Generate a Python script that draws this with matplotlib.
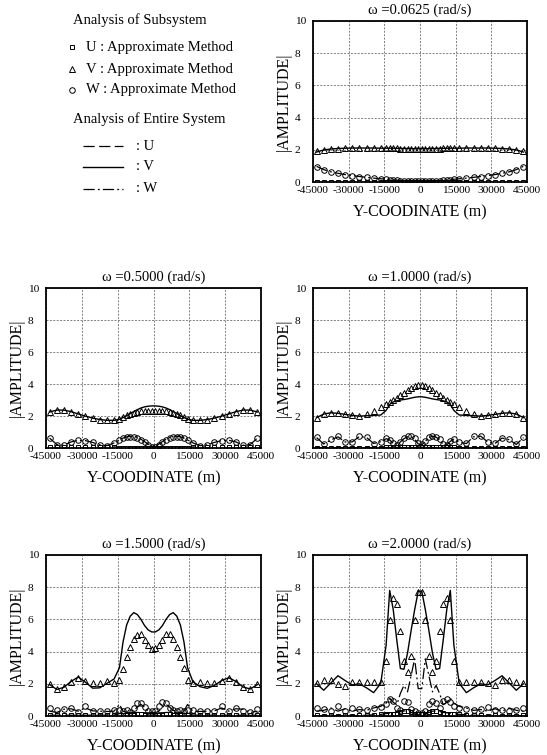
import matplotlib
matplotlib.use("Agg")
import matplotlib.pyplot as plt

plt.rcParams['font.family'] = ['Liberation Serif', 'DejaVu Serif']
plt.rcParams['axes.unicode_minus'] = False

# Y-coordinates of the computed points (m)
y_pos = [-43500, -40500, -37500, -34500, -31500, -28500, -25500, -22500, -19500, -16500,
         -14250, -12750, -11250, -9750, -8250, -6750, -5250, -3750, -2250, -750,
         750, 2250, 3750, 5250, 6750, 8250, 9750, 11250, 12750, 14250,
         16500, 19500, 22500, 25500, 28500, 31500, 34500, 37500, 40500, 43500]

x_ticks = [-45000, -30000, -15000, 0, 15000, 30000, 45000]
x_tick_labels = ['-45000', '-30000', '-15000', '0', '15000', '30000', '45000']
y_ticks = [0, 2, 4, 6, 8, 10]

#--------------------------------------------------------------------------
# omega = 0.0625
a_u_pt = [0.03, 0.03, 0.03, 0.03, 0.03, 0.03, 0.03, 0.03, 0.03, 0.03,
          0.03, 0.03, 0.03, 0.02, 0.02, 0.02, 0.02, 0.02, 0.02, 0.02,
          0.02, 0.02, 0.02, 0.02, 0.02, 0.02, 0.02, 0.03, 0.03, 0.03,
          0.03, 0.03, 0.03, 0.03, 0.03, 0.03, 0.03, 0.03, 0.03, 0.03]
a_v_pt = [1.90, 2.00, 2.05, 2.08, 2.10, 2.10, 2.11, 2.11, 2.11, 2.10,
          2.10, 2.10, 2.09, 2.09, 2.08, 2.08, 2.08, 2.07, 2.07, 2.07,
          2.07, 2.07, 2.07, 2.08, 2.08, 2.08, 2.09, 2.09, 2.10, 2.10,
          2.10, 2.11, 2.11, 2.11, 2.10, 2.10, 2.08, 2.05, 2.00, 1.90]
a_w_pt = [0.95, 0.75, 0.62, 0.53, 0.45, 0.39, 0.33, 0.28, 0.23, 0.19,
          0.16, 0.14, 0.12, 0.10, 0.09, 0.07, 0.06, 0.05, 0.04, 0.04,
          0.04, 0.04, 0.05, 0.06, 0.07, 0.09, 0.10, 0.12, 0.14, 0.16,
          0.19, 0.23, 0.28, 0.33, 0.39, 0.45, 0.53, 0.62, 0.75, 0.95]
a_u_ln = [0.01, 0.01, 0.01, 0.01, 0.01, 0.01, 0.01, 0.01, 0.01, 0.01,
          0.01, 0.01, 0.01, 0.01, 0.01, 0.01, 0.01, 0.01, 0.01, 0.01,
          0.01, 0.01, 0.01, 0.01, 0.01, 0.01, 0.01, 0.01, 0.01, 0.01,
          0.01, 0.01, 0.01, 0.01, 0.01, 0.01, 0.01, 0.01, 0.01, 0.01]
a_v_ln = [1.86, 1.99, 2.05, 2.08, 2.10, 2.11, 2.11, 2.11, 2.11, 2.10,
          2.10, 2.10, 2.10, 2.09, 2.09, 2.08, 2.08, 2.07, 2.07, 2.07,
          2.07, 2.07, 2.07, 2.08, 2.08, 2.09, 2.09, 2.10, 2.10, 2.10,
          2.10, 2.11, 2.11, 2.11, 2.11, 2.10, 2.08, 2.05, 1.99, 1.86]
a_w_ln = [0.97, 0.77, 0.63, 0.54, 0.46, 0.40, 0.34, 0.29, 0.24, 0.20,
          0.17, 0.15, 0.13, 0.11, 0.09, 0.08, 0.06, 0.05, 0.04, 0.03,
          0.03, 0.04, 0.05, 0.06, 0.08, 0.09, 0.11, 0.13, 0.15, 0.17,
          0.20, 0.24, 0.29, 0.34, 0.40, 0.46, 0.54, 0.63, 0.77, 0.97]

#--------------------------------------------------------------------------
# omega = 0.5
b_u_pt = [0.04, 0.04, 0.04, 0.04, 0.04, 0.04, 0.04, 0.04, 0.04, 0.04,
          0.03, 0.03, 0.03, 0.03, 0.03, 0.03, 0.03, 0.03, 0.03, 0.03,
          0.03, 0.03, 0.03, 0.03, 0.03, 0.03, 0.03, 0.03, 0.03, 0.03,
          0.04, 0.04, 0.04, 0.04, 0.04, 0.04, 0.04, 0.04, 0.04, 0.04]
b_v_pt = [2.22, 2.35, 2.35, 2.25, 2.12, 2.00, 1.87, 1.78, 1.73, 1.72,
          1.82, 1.93, 2.04, 2.13, 2.20, 2.26, 2.30, 2.32, 2.33, 2.33,
          2.33, 2.33, 2.32, 2.30, 2.26, 2.20, 2.13, 2.04, 1.93, 1.82,
          1.72, 1.73, 1.78, 1.87, 2.00, 2.12, 2.25, 2.35, 2.35, 2.22]
b_w_pt = [0.60, 0.20, 0.17, 0.37, 0.47, 0.46, 0.35, 0.20, 0.15, 0.30,
          0.47, 0.60, 0.67, 0.70, 0.68, 0.60, 0.48, 0.35, 0.20, 0.08,
          0.08, 0.20, 0.35, 0.48, 0.60, 0.68, 0.70, 0.67, 0.60, 0.47,
          0.30, 0.15, 0.20, 0.35, 0.46, 0.47, 0.37, 0.17, 0.20, 0.60]
b_u_ln = [0.02, 0.02, 0.02, 0.02, 0.02, 0.02, 0.02, 0.02, 0.02, 0.02,
          0.02, 0.02, 0.02, 0.02, 0.02, 0.02, 0.02, 0.02, 0.02, 0.02,
          0.02, 0.02, 0.02, 0.02, 0.02, 0.02, 0.02, 0.02, 0.02, 0.02,
          0.02, 0.02, 0.02, 0.02, 0.02, 0.02, 0.02, 0.02, 0.02, 0.02]
b_v_ln = [2.25, 2.37, 2.37, 2.27, 2.13, 1.99, 1.87, 1.78, 1.73, 1.73,
          1.80, 1.90, 2.02, 2.15, 2.28, 2.40, 2.50, 2.57, 2.61, 2.63,
          2.63, 2.61, 2.57, 2.50, 2.40, 2.28, 2.15, 2.02, 1.90, 1.80,
          1.73, 1.73, 1.78, 1.87, 1.99, 2.13, 2.27, 2.37, 2.37, 2.25]
b_w_ln = [0.62, 0.22, 0.17, 0.38, 0.48, 0.46, 0.35, 0.20, 0.15, 0.32,
          0.50, 0.62, 0.70, 0.74, 0.73, 0.66, 0.55, 0.40, 0.25, 0.10,
          0.10, 0.25, 0.40, 0.55, 0.66, 0.73, 0.74, 0.70, 0.62, 0.50,
          0.32, 0.15, 0.20, 0.35, 0.46, 0.48, 0.38, 0.17, 0.22, 0.62]

#--------------------------------------------------------------------------
# omega = 1.0
c_u_pt = [0.03, 0.03, 0.03, 0.03, 0.03, 0.03, 0.03, 0.03, 0.03, 0.03,
          0.04, 0.04, 0.04, 0.04, 0.05, 0.05, 0.05, 0.05, 0.05, 0.05,
          0.05, 0.05, 0.05, 0.05, 0.05, 0.05, 0.04, 0.04, 0.04, 0.04,
          0.03, 0.03, 0.03, 0.03, 0.03, 0.03, 0.03, 0.03, 0.03, 0.03]
c_v_pt = [1.88, 2.15, 2.20, 2.17, 2.10, 2.04, 1.98, 2.10, 2.33, 2.58,
          2.72, 2.85, 3.00, 3.15, 3.30, 3.45, 3.60, 3.75, 3.87, 3.93,
          3.93, 3.87, 3.75, 3.60, 3.45, 3.30, 3.15, 3.00, 2.85, 2.72,
          2.58, 2.33, 2.10, 1.98, 2.04, 2.10, 2.17, 2.20, 2.15, 1.88]
c_w_pt = [0.68, 0.28, 0.55, 0.72, 0.38, 0.40, 0.75, 0.68, 0.28, 0.40,
          0.60, 0.52, 0.30, 0.18, 0.40, 0.60, 0.73, 0.77, 0.62, 0.30,
          0.22, 0.45, 0.68, 0.77, 0.70, 0.55, 0.25, 0.20, 0.45, 0.58,
          0.35, 0.30, 0.73, 0.77, 0.40, 0.30, 0.65, 0.55, 0.25, 0.68]
c_u_ln = [0.02, 0.02, 0.02, 0.02, 0.02, 0.02, 0.02, 0.02, 0.02, 0.02,
          0.03, 0.03, 0.03, 0.03, 0.03, 0.03, 0.03, 0.03, 0.03, 0.03,
          0.03, 0.03, 0.03, 0.03, 0.03, 0.03, 0.03, 0.03, 0.03, 0.03,
          0.02, 0.02, 0.02, 0.02, 0.02, 0.02, 0.02, 0.02, 0.02, 0.02]
c_v_ln = [1.90, 2.12, 2.20, 2.17, 2.10, 2.04, 1.99, 2.02, 2.04, 2.06,
          2.35, 2.72, 2.88, 2.95, 3.00, 3.03, 3.07, 3.12, 3.17, 3.20,
          3.20, 3.17, 3.12, 3.07, 3.03, 3.00, 2.95, 2.88, 2.72, 2.35,
          2.06, 2.04, 2.02, 1.99, 2.04, 2.10, 2.17, 2.20, 2.12, 1.90]
c_w_ln = [0.65, 0.25, 0.50, 0.70, 0.38, 0.38, 0.72, 0.66, 0.28, 0.40,
          0.58, 0.50, 0.28, 0.15, 0.38, 0.58, 0.70, 0.72, 0.55, 0.25,
          0.20, 0.42, 0.65, 0.74, 0.68, 0.50, 0.22, 0.18, 0.42, 0.55,
          0.35, 0.28, 0.70, 0.74, 0.38, 0.28, 0.62, 0.52, 0.22, 0.65]

#--------------------------------------------------------------------------
# omega = 1.5
d_u_pt = [0.04, 0.04, 0.04, 0.04, 0.04, 0.04, 0.04, 0.04, 0.04, 0.05,
          0.06, 0.07, 0.08, 0.08, 0.09, 0.10, 0.10, 0.09, 0.08, 0.07,
          0.07, 0.08, 0.09, 0.10, 0.10, 0.09, 0.08, 0.08, 0.07, 0.06,
          0.05, 0.04, 0.04, 0.04, 0.04, 0.04, 0.04, 0.04, 0.04, 0.04]
d_v_pt = [1.97, 1.68, 1.80, 2.13, 2.34, 2.17, 2.05, 2.07, 2.17, 2.04,
          2.22, 2.92, 3.68, 4.30, 4.80, 5.05, 5.07, 4.72, 4.40, 4.18,
          4.20, 4.40, 4.72, 5.07, 5.07, 4.78, 4.28, 3.68, 2.96, 2.24,
          2.05, 2.13, 2.07, 2.03, 2.17, 2.34, 2.13, 1.80, 1.68, 1.97]
d_w_pt = [0.50, 0.35, 0.45, 0.52, 0.22, 0.62, 0.32, 0.30, 0.30, 0.40,
          0.35, 0.30, 0.38, 0.25, 0.50, 0.80, 0.82, 0.55, 0.32, 0.28,
          0.30, 0.65, 0.85, 0.78, 0.50, 0.35, 0.30, 0.38, 0.30, 0.35,
          0.38, 0.30, 0.28, 0.32, 0.62, 0.30, 0.52, 0.30, 0.25, 0.45]
d_u_ln = [0.05, 0.05, 0.05, 0.05, 0.05, 0.05, 0.05, 0.05, 0.05, 0.06,
          0.15, 0.18, 0.20, 0.20, 0.22, 0.22, 0.22, 0.20, 0.20, 0.18,
          0.18, 0.20, 0.20, 0.22, 0.22, 0.22, 0.20, 0.20, 0.18, 0.15,
          0.06, 0.05, 0.05, 0.05, 0.05, 0.05, 0.05, 0.05, 0.05, 0.05]
d_v_ln = [1.95, 1.65, 1.78, 2.15, 2.42, 2.10, 1.73, 1.75, 2.03, 2.30,
          3.00, 4.60, 5.65, 6.20, 6.42, 6.30, 6.00, 5.62, 5.35, 5.22,
          5.22, 5.35, 5.62, 6.00, 6.30, 6.42, 6.20, 5.65, 4.60, 3.00,
          2.13, 1.82, 1.72, 1.90, 2.20, 2.38, 2.15, 1.80, 1.68, 1.95]
d_w_ln = [0.30, 0.22, 0.42, 0.45, 0.30, 0.50, 0.32, 0.30, 0.28, 0.30,
          0.72, 0.30, 0.22, 0.28, 0.35, 0.55, 0.72, 0.55, 0.30, 0.20,
          0.20, 0.30, 0.55, 0.72, 0.55, 0.35, 0.28, 0.22, 0.30, 0.72,
          0.30, 0.28, 0.30, 0.32, 0.50, 0.30, 0.45, 0.42, 0.22, 0.30]

#--------------------------------------------------------------------------
# omega = 2.0
e_u_pt = [0.05, 0.03, 0.05, 0.03, 0.05, 0.03, 0.05, 0.05, 0.08, 0.10,
          0.12, 0.10, 0.15, 0.20, 0.25, 0.30, 0.30, 0.25, 0.15, 0.10,
          0.10, 0.15, 0.25, 0.30, 0.30, 0.25, 0.20, 0.15, 0.10, 0.12,
          0.10, 0.08, 0.05, 0.05, 0.03, 0.05, 0.03, 0.05, 0.03, 0.05]
e_v_pt = [2.03, 2.22, 2.24, 1.98, 1.88, 2.13, 2.13, 2.13, 2.13, 2.13,
          3.42, 5.96, 7.35, 6.94, 5.28, 3.42, 2.72, 3.75, 5.96, 7.70,
          7.70, 5.96, 3.75, 2.72, 3.42, 5.28, 6.94, 7.35, 5.96, 3.42,
          2.13, 2.13, 2.13, 2.13, 2.03, 1.95, 2.24, 2.24, 2.13, 2.03]
e_w_pt = [0.50, 0.42, 0.32, 0.62, 0.28, 0.48, 0.42, 0.38, 0.48, 0.55,
          0.75, 1.05, 0.95, 0.50, 0.35, 0.95, 0.85, 0.45, 0.30, 0.20,
          0.20, 0.30, 0.75, 0.95, 0.80, 0.50, 0.95, 1.08, 0.90, 0.60,
          0.50, 0.45, 0.38, 0.42, 0.55, 0.35, 0.40, 0.28, 0.38, 0.50]
e_u_ln = [0.02, 0.02, 0.03, 0.02, 0.03, 0.02, 0.03, 0.05, 0.08, 0.10,
          0.15, 0.18, 0.20, 0.22, 0.28, 0.32, 0.30, 0.22, 0.12, 0.08,
          0.08, 0.12, 0.22, 0.30, 0.32, 0.28, 0.22, 0.20, 0.18, 0.15,
          0.10, 0.08, 0.05, 0.03, 0.02, 0.03, 0.02, 0.03, 0.02, 0.02]
e_v_ln = [2.00, 1.60, 2.05, 2.50, 2.20, 1.93, 2.00, 1.75, 1.45, 2.03,
          4.40, 7.80, 6.60, 4.70, 2.95, 2.90, 3.90, 5.30, 6.60, 7.75,
          7.75, 6.60, 5.30, 3.90, 2.90, 2.95, 4.70, 6.60, 7.80, 4.40,
          2.03, 1.45, 1.75, 2.00, 1.93, 2.20, 2.50, 2.05, 1.60, 2.00]
e_w_ln = [0.30, 0.35, 0.50, 0.30, 0.45, 0.30, 0.40, 0.35, 0.50, 0.60,
          0.80, 1.10, 0.85, 0.70, 1.40, 1.90, 1.50, 2.50, 3.55, 1.70,
          1.70, 3.55, 2.50, 1.50, 1.90, 1.40, 0.70, 0.85, 1.10, 0.80,
          0.60, 0.50, 0.35, 0.40, 0.30, 0.45, 0.30, 0.50, 0.35, 0.30]

titles = ['ω =0.0625 (rad/s)', 'ω =0.5000 (rad/s)', 'ω =1.0000 (rad/s)',
          'ω =1.5000 (rad/s)', 'ω =2.0000 (rad/s)']

paneles = [
    (a_u_pt, a_v_pt, a_w_pt, a_u_ln, a_v_ln, a_w_ln),
    (b_u_pt, b_v_pt, b_w_pt, b_u_ln, b_v_ln, b_w_ln),
    (c_u_pt, c_v_pt, c_w_pt, c_u_ln, c_v_ln, c_w_ln),
    (d_u_pt, d_v_pt, d_w_pt, d_u_ln, d_v_ln, d_w_ln),
    (e_u_pt, e_v_pt, e_w_pt, e_u_ln, e_v_ln, e_w_ln),
]

W, H = 547, 755
# axes boxes in pixels: left, top, width, height
cajas = [(313, 21, 214, 161), (46, 288, 215, 160), (313, 288, 214, 160),
         (46, 555, 215, 161), (313, 555, 214, 161)]

DASH_U = (0, (9, 3.5))
DASH_W = (0, (9, 2.5, 1.5, 2.5))

fig = plt.figure(figsize=(W / 100, H / 100), dpi=100)

for caja, titulo, datos in zip(cajas, titles, paneles):
    l, t, w, h = caja
    ax = fig.add_axes([l / W, 1 - (t + h) / H, w / W, h / H])
    u_pt, v_pt, w_pt, u_ln, v_ln, w_ln = datos

    ax.plot(y_pos, u_ln, color='black', lw=0.9, ls=DASH_U, zorder=3)
    ax.plot(y_pos, v_ln, color='black', lw=1.0, ls='-', zorder=3)
    ax.plot(y_pos, w_ln, color='black', lw=0.9, ls=DASH_W, zorder=3)
    ax.plot(y_pos, u_pt, ls='none', marker='s', ms=3.0, mfc='none', mec='black', mew=0.7, zorder=4)
    ax.plot(y_pos, v_pt, ls='none', marker='^', ms=4.0, mfc='none', mec='black', mew=0.7, zorder=4)
    ax.plot(y_pos, w_pt, ls='none', marker='o', ms=4.0, mfc='none', mec='black', mew=0.7, zorder=4)

    ax.set_xlim(-45000, 45000)
    ax.set_ylim(0, 10)
    ax.set_xticks(x_ticks)
    ax.set_xticklabels(x_tick_labels)
    ax.set_yticks(y_ticks)
    ax.tick_params(length=0, labelsize=8.2)
    ax.tick_params(axis='x', pad=3)
    ax.tick_params(axis='y', pad=13)
    for lab in ax.get_yticklabels():
        lab.set_horizontalalignment('left')
    ax.grid(True, color='#7f7f7f', ls=(0, (2, 1.5)), lw=0.7)
    ax.set_axisbelow(True)
    for s in ax.spines.values():
        s.set_linewidth(1.3)
    ax.set_title(titulo, fontsize=10.5, pad=5)
    ax.set_xlabel('Y-COODINATE (m)', fontsize=11.5, labelpad=6.5)
    ax.set_ylabel('|AMPLITUDE|', fontsize=11.5, labelpad=2)

# legend block drawn in pixel coordinates
lg = fig.add_axes([0, 0, 1, 1])
lg.set_xlim(0, W)
lg.set_ylim(H, 0)
lg.axis('off')
lg.patch.set_alpha(0)

lg.text(73, 20, 'Analysis of Subsystem', fontsize=10.5, va='center')
lg.plot([72], [47], marker='s', ms=3.0, mfc='none', mec='black', mew=0.7)
lg.text(86, 47, 'U : Approximate Method', fontsize=10.5, va='center')
lg.plot([72], [69], marker='^', ms=4.0, mfc='none', mec='black', mew=0.7)
lg.text(86, 69, 'V : Approximate Method', fontsize=10.5, va='center')
lg.plot([72], [90], marker='o', ms=4.0, mfc='none', mec='black', mew=0.7)
lg.text(86, 90, 'W : Approximate Method', fontsize=10.5, va='center')
lg.text(73, 119, 'Analysis of Entire System', fontsize=10.5, va='center')
lg.plot([83, 123], [146, 146], color='black', lw=0.9, ls=DASH_U)
lg.text(136, 146, ': U', fontsize=10.5, va='center')
lg.plot([83, 123], [167, 167], color='black', lw=1.0, ls='-')
lg.text(136, 167, ': V', fontsize=10.5, va='center')
lg.plot([83, 123], [189, 189], color='black', lw=0.9, ls=DASH_W)
lg.text(136, 189, ': W', fontsize=10.5, va='center')

fig.savefig('out.png', dpi=100)
